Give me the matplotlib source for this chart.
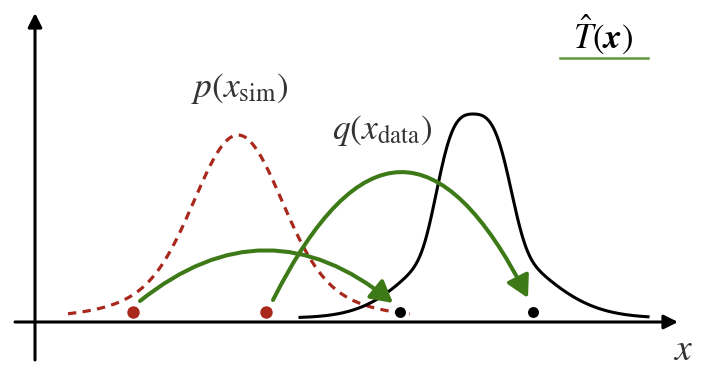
import numpy as np
import matplotlib
matplotlib.use("Agg")
import matplotlib.pyplot as plt
from matplotlib.patches import FancyArrowPatch
from matplotlib.path import Path

plt.rcParams['mathtext.fontset'] = 'stix'

# ---- schematic data (canvas units: x right, y down) ----
baseline = 318
axis_y = 322
axis_x = 35

# p(x_sim): red dashed density (two-component bump)
p_center = 238
p_range = [68, 410]
p_amps = [143, 40]
p_sds = [42, 80]

# q(x_data): black density (steep core + broad shoulders)
q_center = 473
q_range = [300, 648]
q_core_amp = 118
q_core_w = [40, 42]      # left, right
q_core_pow = 3.5
q_broad_amp = 86
q_broad_sd = [55, 60]    # left, right

# sample points
sim_points = [133, 266]
data_points = [400, 533]
points_y = 312

# transport arrows T(x): start, end, apex height
arrow_starts = [(140, 301), (273, 300)]
arrow_ends = [(393, 303), (528, 298)]
arrow_apex_y = [251, 173]

GREEN = '#3d7a17'
RED = '#a8281c'
TXT = '#333333'

fig = plt.figure(figsize=(7.05, 3.68), dpi=100)
ax = fig.add_axes([0, 0, 1, 1])
ax.set_xlim(0, 705)
ax.set_ylim(368, 0)
ax.axis('off')

# axes with arrows
ax.annotate('', xy=(678, axis_y), xytext=(15, axis_y),
            arrowprops=dict(arrowstyle='-|>,head_length=0.6,head_width=0.3',
                            mutation_scale=14, lw=2.2, color='black',
                            shrinkA=0, shrinkB=0))
ax.annotate('', xy=(axis_x, 13), xytext=(axis_x, 360),
            arrowprops=dict(arrowstyle='-|>,head_length=0.6,head_width=0.3',
                            mutation_scale=14, lw=2.2, color='black',
                            shrinkA=0, shrinkB=0))

# p curve
xp = np.linspace(p_range[0], p_range[1], 400)
hp = sum(a * np.exp(-0.5 * ((xp - p_center) / s) ** 2) for a, s in zip(p_amps, p_sds))
ax.plot(xp, baseline - hp, color=RED, lw=2.3, linestyle=(0, (2.6, 2.0)),
        dash_capstyle='butt')

# q curve
xq = np.linspace(q_range[0], q_range[1], 600)
z = xq - q_center
w = np.where(z < 0, q_core_w[0], q_core_w[1])
sd = np.where(z < 0, q_broad_sd[0], q_broad_sd[1])
hq = q_core_amp * np.exp(-(np.abs(z) / w) ** q_core_pow) + \
     q_broad_amp * np.exp(-0.5 * (z / sd) ** 2)
ax.plot(xq, baseline - hq, color='black', lw=2.2)

# green transport arrows (quadratic arcs)
for (x0, y0), (x1, y1), apex in zip(arrow_starts, arrow_ends, arrow_apex_y):
    ymid = (y0 + y1) / 2
    ctrl = ((x0 + x1) / 2, ymid - 2 * (ymid - apex))
    path = Path([(x0, y0), ctrl, (x1, y1)], [Path.MOVETO, Path.CURVE3, Path.CURVE3])
    arr = FancyArrowPatch(path=path,
                          arrowstyle='-|>,head_length=0.65,head_width=0.36',
                          mutation_scale=20, lw=2.9, color=GREEN, zorder=4)
    ax.add_patch(arr)

# points
ax.scatter(sim_points, [points_y] * len(sim_points), s=80, color=RED, zorder=5,
           linewidths=0)
ax.scatter(data_points, [points_y] * len(data_points), s=62, color='black', zorder=5,
           linewidths=0)

# labels
ax.text(240, 89, r'$p(x_{\mathrm{sim}})$', fontsize=25.5, color=TXT,
        ha='center', va='center')
ax.text(382, 130, r'$q(x_{\mathrm{data}})$', fontsize=25.5, color=TXT,
        ha='center', va='center')
ax.text(683, 350, r'$x$', fontsize=27, color=TXT, ha='center', va='center')

# legend
ax.text(603, 34, r'$\hat{T}(\boldsymbol{x})$', fontsize=25, color='black',
        ha='center', va='center')
ax.plot([560, 648], [58, 58], color='#5f9a3a', lw=1.8)

fig.savefig('out.png', dpi=100)
